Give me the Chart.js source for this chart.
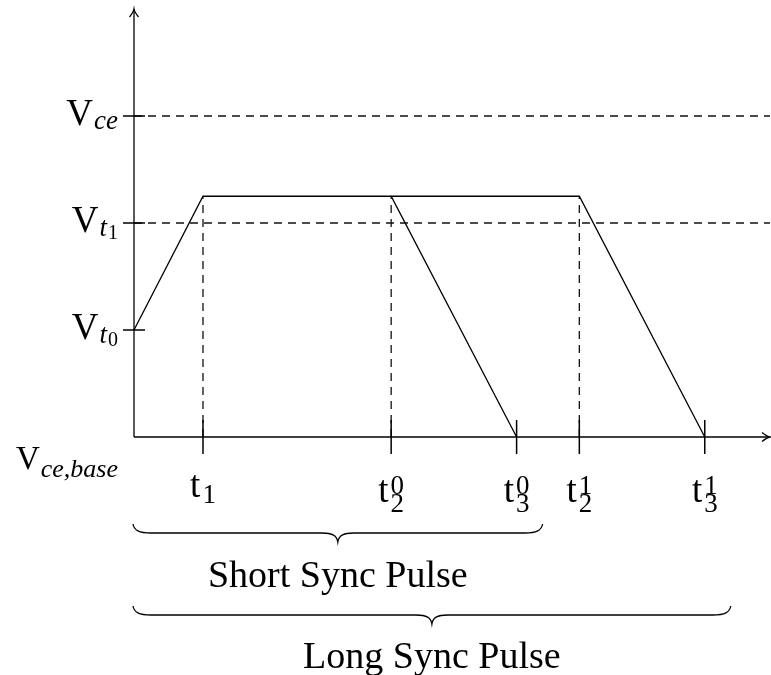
<!DOCTYPE html>
<html>
<head>
<meta charset="utf-8">
<script src="https://cdn.jsdelivr.net/npm/chart.js@4/dist/chart.umd.min.js"></script>
<style>
  html, body { margin: 0; padding: 0; background: #fff; }
  #wrap { width: 771px; height: 675px; }
</style>
</head>
<body>
<div id="wrap"><canvas id="c" width="771" height="675"></canvas></div>
<script>
// ---------- data ----------
const tTimes = [1.1, 4.1, 6.1, 7.1, 9.1];          // t1, t2^0, t3^0, t2^1, t3^1
const tBase = ['t', 't', 't', 't', 't'];
const tSubs = ['1', '2', '3', '2', '3'];
const tSups = ['', '0', '0', '1', '1'];

const vLevels = [0, 1, 2, 3];                        // V_ce,base, V_t0, V_t1, V_ce
const vSubs = ['ce,base', 't', 't', 'ce'];
const vSubSubs = ['', '0', '1', ''];

const plateau = 2.25;
const shortX = [0, 1.1, 4.1, 6.1];
const shortY = [1, 2.25, 2.25, 0];
const longX = [4.1, 7.1, 9.1];
const longY = [2.25, 2.25, 0];

const dashedLevels = [2, 3];                         // V_t1, V_ce
const dashedTimes = [1.1, 4.1, 7.1];                 // t1, t2^0, t2^1

const braceLabels = ['Short Sync Pulse', 'Long Sync Pulse'];
const braceEnds = [6.1, 9.1];                        // t3^0, t3^1

const xMax = 10.14;
const yMax = 4;

// ---------- datasets ----------
const pts = (xs, ys) => xs.map((x, i) => ({ x: x, y: ys[i] }));
const solid = { borderColor: '#000', borderWidth: 1.3, pointRadius: 0, showLine: true, fill: false, clip: false, tension: 0 };
const dashed = Object.assign({}, solid, { borderDash: [8, 6], borderWidth: 1.3, borderColor: '#111' });

const datasets = [];
dashedLevels.forEach(v => datasets.push(Object.assign({ data: pts([0, xMax], [v, v]) }, dashed)));
dashedTimes.forEach(t => datasets.push(Object.assign({ data: pts([t, t], [0, plateau]) }, dashed)));
datasets.push(Object.assign({ data: pts([0, xMax], [0, 0]) }, solid));   // x axis
datasets.push(Object.assign({ data: pts([0, 0], [0, yMax]) }, solid));   // y axis
datasets.push(Object.assign({ data: pts(shortX, shortY) }, solid));
datasets.push(Object.assign({ data: pts(longX, longY) }, solid));

// ---------- drawing helpers ----------
const SERIF = '"Liberation Serif", "DejaVu Serif", serif';
function font(size, italic) { return (italic ? 'italic ' : '') + size + 'px ' + SERIF; }

const decor = {
  id: 'decor',
  afterDatasetsDraw(chart) {
    const ctx = chart.ctx;
    const xs = chart.scales.x, ys = chart.scales.y;
    const x0 = xs.getPixelForValue(0), y0 = ys.getPixelForValue(0);
    ctx.save();
    ctx.strokeStyle = '#000';
    ctx.fillStyle = '#000';
    ctx.lineWidth = 1.3;
    ctx.lineCap = 'butt';

    // arrow heads
    const xe = xs.getPixelForValue(xMax), yt = ys.getPixelForValue(yMax);
    ctx.beginPath();
    ctx.moveTo(x0 - 4.5, yt + 8); ctx.quadraticCurveTo(x0 - 0.5, yt + 3, x0, yt);
    ctx.quadraticCurveTo(x0 + 0.5, yt + 3, x0 + 4.5, yt + 8);
    ctx.stroke();
    ctx.beginPath();
    ctx.moveTo(xe - 8, y0 - 4.5); ctx.quadraticCurveTo(xe - 3, y0 - 0.5, xe, y0);
    ctx.quadraticCurveTo(xe - 3, y0 + 0.5, xe - 8, y0 + 4.5);
    ctx.stroke();

    // x ticks and labels
    ctx.lineWidth = 1.5;
    tTimes.forEach((t, i) => {
      const px = xs.getPixelForValue(t);
      ctx.beginPath(); ctx.moveTo(px, y0 - 17); ctx.lineTo(px, y0 + 17); ctx.stroke();
      ctx.font = font(37, false);
      const wm = ctx.measureText(tBase[i]).width;
      ctx.font = font(27, false);
      const wsb = ctx.measureText(tSubs[i]).width;
      const wsp = tSups[i] ? ctx.measureText(tSups[i]).width : 0;
      const gap = 2;
      const w = wm + gap + Math.max(wsb, wsp);
      const sx = px - w / 2;
      const hasSup = !!tSups[i];
      const mb = y0 + (hasSup ? 65 : 60);
      ctx.textAlign = 'left'; ctx.textBaseline = 'alphabetic';
      ctx.font = font(37, false);
      ctx.fillText(tBase[i], sx, mb);
      ctx.font = font(27, false);
      ctx.fillText(tSubs[i], sx + wm + gap, y0 + (hasSup ? 75 : 66));
      if (hasSup) ctx.fillText(tSups[i], sx + wm + gap, y0 + 57);
    });

    // y ticks and labels
    const rightEdge = x0 - 16;
    vLevels.forEach((v, i) => {
      const py = ys.getPixelForValue(v);
      let vSize = 37, sSize = 27, vb = py + 9, sb = py + 13;
      if (v === 0) { vSize = 33; sSize = 26; vb = py + 32; sb = py + 40; }
      else {
        ctx.lineWidth = 1.5;
        ctx.beginPath(); ctx.moveTo(x0 - 11, py); ctx.lineTo(x0 + 11, py); ctx.stroke();
      }
      ctx.font = font(vSize, false);
      const wV = ctx.measureText('V').width;
      ctx.font = font(sSize, true);
      const wS = ctx.measureText(vSubs[i]).width;
      ctx.font = font(20, false);
      const wSS = vSubSubs[i] ? ctx.measureText(vSubSubs[i]).width + 1 : 0;
      const total = wV + 1 + wS + wSS;
      const sx = rightEdge - total;
      ctx.textAlign = 'left'; ctx.textBaseline = 'alphabetic';
      ctx.font = font(vSize, false); ctx.fillText('V', sx, vb);
      ctx.font = font(sSize, true); ctx.fillText(vSubs[i], sx + wV + 1, sb);
      if (vSubSubs[i]) { ctx.font = font(20, false); ctx.fillText(vSubSubs[i], sx + wV + 2 + wS, py + 16); }
    });

    // braces
    const braceY = [524, 606];
    const textY = [587, 668];
    ctx.lineWidth = 1.3;
    braceEnds.forEach((t, i) => {
      const L = x0 - 1, R = xs.getPixelForValue(t) + 26;
      const M = (L + R) / 2, top = braceY[i], a = 9;
      ctx.beginPath();
      ctx.moveTo(L, top);
      ctx.bezierCurveTo(L + 1, top + a * 0.7, L + 6, top + a, L + 18, top + a);
      ctx.lineTo(M - 16, top + a);
      ctx.bezierCurveTo(M - 5, top + a, M - 1, top + a * 1.3, M, top + 2 * a);
      ctx.bezierCurveTo(M + 1, top + a * 1.3, M + 5, top + a, M + 16, top + a);
      ctx.lineTo(R - 18, top + a);
      ctx.bezierCurveTo(R - 6, top + a, R - 1, top + a * 0.7, R, top);
      ctx.stroke();
      ctx.font = font(38, false);
      ctx.textAlign = 'center'; ctx.textBaseline = 'alphabetic';
      ctx.fillText(braceLabels[i], M, textY[i]);
    });
    ctx.restore();
  }
};

new Chart(document.getElementById('c'), {
  type: 'scatter',
  data: { datasets: datasets },
  options: {
    responsive: false,
    animation: false,
    events: [],
    layout: { padding: { left: 134, right: 1, top: 9, bottom: 238 } },
    plugins: { legend: { display: false }, tooltip: { enabled: false } },
    scales: {
      x: { type: 'linear', display: false, min: 0, max: xMax },
      y: { type: 'linear', display: false, min: 0, max: yMax }
    }
  },
  plugins: [decor]
});
</script>
</body>
</html>
